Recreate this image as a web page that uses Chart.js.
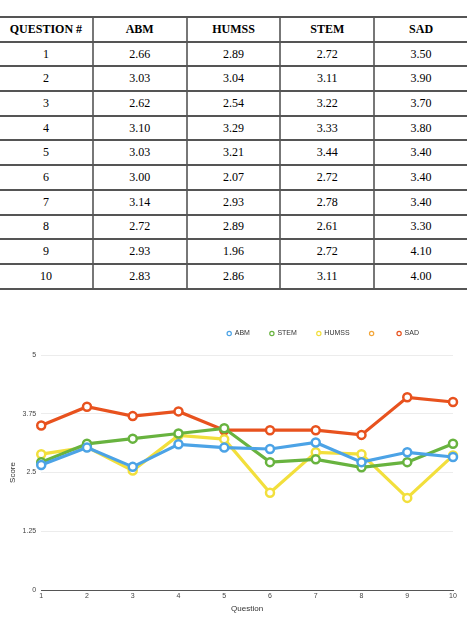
<!DOCTYPE html>
<html>
<head>
<meta charset="utf-8">
<script src="https://cdn.jsdelivr.net/npm/chart.js@4.4.1/dist/chart.umd.min.js"></script>
<style>
  body { margin: 0; background: #fff; width: 467px; height: 620px; overflow: hidden; position: relative; }
  table { position: absolute; left: 0; top: 16px; width: 467px; table-layout: fixed; border-collapse: collapse; font-family: "Liberation Serif", "Times New Roman", serif; font-size: 12px; color: #000; }
  th, td { width: 20%; height: 22.7px; padding: 0; text-align: center; border-top: 2px solid #555; border-bottom: 2px solid #555; border-left: 2px solid #777; }
  th:first-child, td:first-child { border-left: none; }
  th { font-weight: bold; }
  #wrap { position: absolute; left: 0; top: 308px; width: 467px; height: 312px; }
</style>
</head>
<body>
<table id="tbl"></table>
<div id="wrap"><canvas id="chart"></canvas></div>
<script>
const questions = ['1', '2', '3', '4', '5', '6', '7', '8', '9', '10'];
const abm = [2.66, 3.03, 2.62, 3.10, 3.03, 3.00, 3.14, 2.72, 2.93, 2.83];
const humss = [2.89, 3.04, 2.54, 3.29, 3.21, 2.07, 2.93, 2.89, 1.96, 2.86];
const stem = [2.72, 3.11, 3.22, 3.33, 3.44, 2.72, 2.78, 2.61, 2.72, 3.11];
const sad = [3.50, 3.90, 3.70, 3.80, 3.40, 3.40, 3.40, 3.30, 4.10, 4.00];
const tableHeaders = ['QUESTION #', 'ABM', 'HUMSS', 'STEM', 'SAD'];
const yTickLabels = ['0', '1.25', '2.5', '3.75', '5'];

// table on top
let html = '<tr>' + tableHeaders.map(h => '<th>' + h + '</th>').join('') + '</tr>';
questions.forEach((q, i) => {
  html += '<tr><td>' + q + '</td><td>' + abm[i].toFixed(2) + '</td><td>' + humss[i].toFixed(2) +
    '</td><td>' + stem[i].toFixed(2) + '</td><td>' + sad[i].toFixed(2) + '</td></tr>';
});
document.getElementById('tbl').innerHTML = html;

const mkSet = (label, data, color) => ({
  label: label,
  data: data,
  borderColor: color,
  backgroundColor: '#fff',
  borderWidth: 3.2,
  pointRadius: 4,
  pointBorderWidth: 2.5,
  pointBackgroundColor: '#fff',
  pointBorderColor: color,
  tension: 0,
});

// more room under the legend, and push the legend row a bit left
const legendTweak = {
  id: 'legendTweak',
  beforeInit(chart) {
    const fit = chart.legend.fit;
    chart.legend.fit = function () {
      fit.bind(chart.legend)();
      this.height += 8;
      if (this.lineWidths && this.lineWidths.length) this.lineWidths[0] += 14;
    };
  }
};

const config = {
  type: 'line',
  data: {
    labels: questions,
    datasets: [
      mkSet('ABM', abm, '#4ca3e6'),
      mkSet('STEM', stem, '#68b33f'),
      mkSet('HUMSS', humss, '#f2df3c'),
      mkSet('', [], '#f3a63a'),
      mkSet('SAD', sad, '#e8521e'),
    ]
  },
  options: {
    responsive: true,
    maintainAspectRatio: false,
    animation: false,
    layout: { padding: { left: 4, right: 14, top: 2, bottom: 6 } },
    scales: {
      x: {
        grid: { display: false, drawTicks: false },
        border: { color: '#555', width: 1 },
        ticks: { color: '#444', font: { family: 'Liberation Sans', size: 7 }, padding: 2 },
        title: { display: true, text: 'Question', color: '#333', font: { family: 'Liberation Sans', size: 8 }, padding: { top: 2, bottom: 0 } },
      },
      y: {
        min: 0,
        max: 5,
        ticks: {
          stepSize: 1.25,
          color: '#444',
          font: { family: 'Liberation Sans', size: 7 },
          padding: 5,
          callback: (v, i) => yTickLabels[i],
        },
        grid: { color: '#ececec', drawTicks: false },
        border: { display: false },
        title: { display: true, text: 'Score', color: '#333', font: { family: 'Liberation Sans', size: 8 }, padding: { top: 4, bottom: 0 } },
      }
    },
    plugins: {
      legend: {
        align: 'end',
        labels: {
          usePointStyle: true,
          pointStyle: 'circle',
          boxWidth: 4,
          boxHeight: 3,
          padding: 20,
          color: '#333',
          font: { family: 'Liberation Sans', size: 7 },
          generateLabels(chart) {
            const items = Chart.defaults.plugins.legend.labels.generateLabels(chart);
            items.forEach(it => { it.lineWidth = 1.2; });
            return items;
          },
        }
      },
      tooltip: { enabled: false }
    }
  },
  plugins: [legendTweak]
};

const myChart = new Chart(document.getElementById('chart'), config);
</script>
</body>
</html>
